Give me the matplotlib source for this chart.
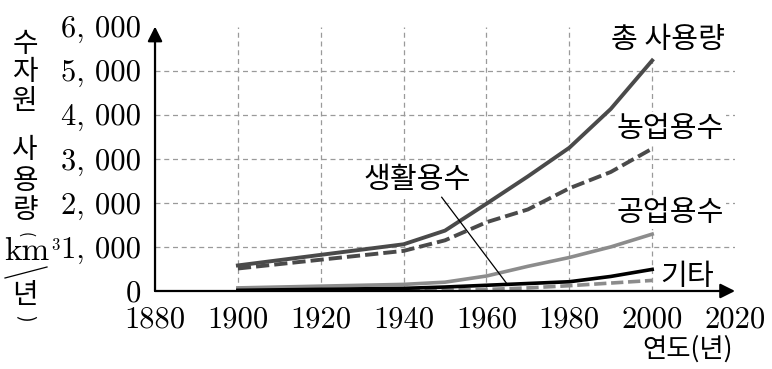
import matplotlib
matplotlib.use('Agg')
import matplotlib.pyplot as plt

# 수자원 사용량 (km3/년)
years = [1900, 1940, 1950, 1960, 1970, 1980, 1990, 2000]
total = [580, 1060, 1370, 1980, 2600, 3250, 4130, 5230]
agri = [510, 910, 1150, 1560, 1850, 2330, 2700, 3230]
industry = [70, 150, 200, 340, 560, 760, 1000, 1290]
other_black = [15, 60, 90, 130, 170, 210, 330, 490]
other_dash = [5, 15, 20, 35, 70, 120, 180, 240]

xticks = [1880, 1900, 1920, 1940, 1960, 1980, 2000, 2020]
yticks = [0, 1000, 2000, 3000, 4000, 5000, 6000]
ytick_labels = ['0', '1, 000', '2, 000', '3, 000', '4, 000', '5, 000', '6, 000']

KR = ['Noto Sans CJK KR', 'DejaVu Sans']
NUM = 'cmr10'

fig = plt.figure(figsize=(7.72, 3.69), dpi=100)
ax = fig.add_axes([0.2008, 0.2114, 0.7513, 0.7166])
ax.set_xlim(1880, 2020)
ax.set_ylim(0, 6000)

# grid
for x in xticks[1:-1]:
    ax.axvline(x, color='#9a9a9a', ls=(0, (4, 3)), lw=0.9, zorder=0)
for y in yticks[1:-1]:
    ax.axhline(y, color='#9a9a9a', ls=(0, (4, 3)), lw=0.9, zorder=0)

dash = (0, (3.4, 1.3))
ax.plot(years, other_dash, color='#8c8c8c', lw=2.6, ls=dash, zorder=3)
ax.plot(years, industry, color='#8c8c8c', lw=2.6, zorder=3)
ax.plot(years, other_black, color='black', lw=2.6, zorder=4)
ax.plot(years, agri, color='#4a4a4a', lw=2.8, ls=dash, zorder=3)
ax.plot(years, total, color='#4a4a4a', lw=2.8, zorder=4)

for s in ax.spines.values():
    s.set_visible(False)
arrow = dict(arrowstyle='-|>', lw=1.6, color='black', mutation_scale=22, shrinkA=0, shrinkB=0)
ax.annotate('', xy=(2020, 0), xytext=(1880, 0), arrowprops=arrow, annotation_clip=False, zorder=6)
ax.annotate('', xy=(1880, 6000), xytext=(1880, 0), arrowprops=arrow, annotation_clip=False, zorder=6)

ax.set_xticks(xticks)
ax.set_xticklabels([str(x) for x in xticks], fontfamily=NUM, fontsize=22)
ax.set_yticks(yticks)
ax.set_yticklabels(ytick_labels, fontfamily=NUM, fontsize=22)
ax.tick_params(length=0)
ax.tick_params(axis='y', pad=10)
ax.tick_params(axis='x', pad=11)

# series labels
wb = dict(facecolor='white', edgecolor='none', pad=1)
fs = 21
ax.text(2003.8, 5700, '총 사용량', fontfamily=KR, fontsize=fs, ha='center', va='center', bbox=wb)
ax.text(2004.4, 3680, '농업용수', fontfamily=KR, fontsize=fs, ha='center', va='center', bbox=wb)
ax.text(2004.4, 1780, '공업용수', fontfamily=KR, fontsize=fs, ha='center', va='center', bbox=wb)
ax.text(2008.5, 320, '기타', fontfamily=KR, fontsize=fs, ha='center', va='center', bbox=wb)
ax.text(1943.2, 2510, '생활용수', fontfamily=KR, fontsize=fs, ha='center', va='center', bbox=wb)
ax.plot([1949.2, 1964.8], [2127, 181], color='black', lw=0.9, zorder=5)

# x label
fig.text(688 / 772, 1 - 349 / 369, '연도(년)', fontfamily=KR, fontsize=19, ha='center', va='center')

# vertical y label
for ch, yp in [('수', 44), ('자', 72), ('원', 101), ('사', 150), ('용', 181), ('량', 210)]:
    fig.text(25 / 772, 1 - yp / 369, ch, fontfamily=KR, fontsize=20, ha='center', va='center')
fig.text(25 / 772, 1 - 235 / 369, '(', fontfamily=KR, fontsize=11, ha='center', va='center', rotation=-90)
fig.text(27 / 772, 1 - 251 / 369, 'km', fontfamily=NUM, fontsize=24, ha='center', va='center')
fig.text(55 / 772, 1 - 245 / 369, '3', fontfamily=NUM, fontsize=12, ha='center', va='center')
fig.add_artist(plt.Line2D([5 / 772, 47 / 772], [1 - 278 / 369, 1 - 267 / 369], color='black', lw=0.9))
fig.text(25 / 772, 1 - 295 / 369, '년', fontfamily=KR, fontsize=20, ha='center', va='center')
fig.text(25 / 772, 1 - 318 / 369, ')', fontfamily=KR, fontsize=14, ha='center', va='center', rotation=-90)

fig.savefig('out.png', dpi=100)
